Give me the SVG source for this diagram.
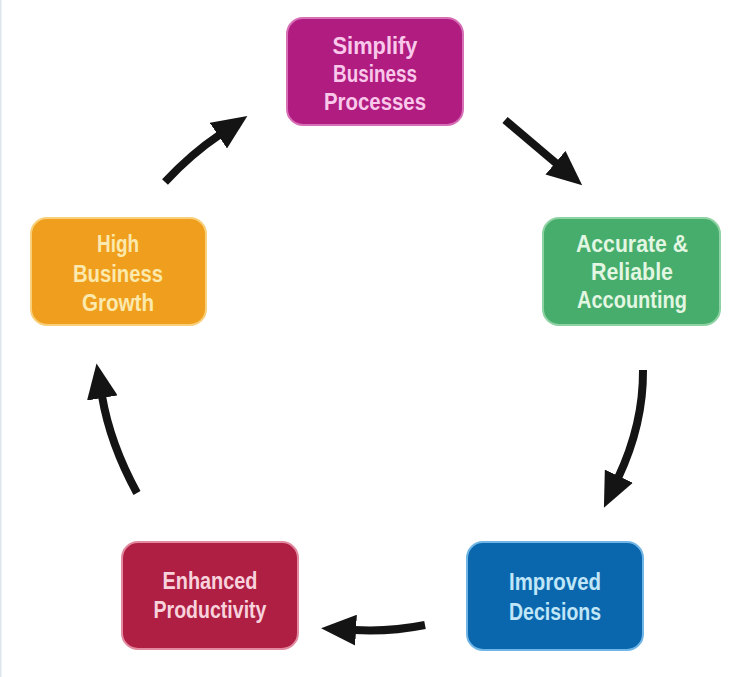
<svg xmlns="http://www.w3.org/2000/svg" width="736" height="677" viewBox="0 0 736 677">
  <defs>
    <marker id="head" viewBox="0 0 35 31" refX="2" refY="15.5" markerWidth="35" markerHeight="31" markerUnits="userSpaceOnUse" orient="auto">
      <path d="M0,0 L35,15.5 L0,31 Z" fill="#141414"/>
    </marker>
  </defs>
  <style>
    .box { stroke-width: 2; }
    .lbl { font-family: "Liberation Sans", Arial, sans-serif; font-weight: bold; font-size: 23px; text-anchor: middle; }
    .arrow { fill: none; stroke: #141414; stroke-width: 8; stroke-linecap: butt; marker-end: url(#head); }
  </style>
  <rect x="0" y="0" width="736" height="677" fill="#ffffff"/>
  <line x1="0.8" y1="0" x2="0.8" y2="677" stroke="#dfe7ee" stroke-width="1.6"/>

  <g id="connectors">
    <path class="arrow" d="M165,182 Q191,154 220,134.5"/>
    <path class="arrow" d="M505,120 L557,164"/>
    <path class="arrow" d="M643,370 Q643.5,424 618,478"/>
    <path class="arrow" d="M425,625 Q390,632 354,630"/>
    <path class="arrow" d="M137,493 Q110,443.5 102,396"/>
  </g>

  <g id="simplify">
    <rect class="box" x="287" y="18" width="176" height="107" rx="16" fill="#b01c80" stroke="#d770b6"/>
    <text class="lbl" fill="#f9c8ea" x="375" y="54" textLength="85" lengthAdjust="spacingAndGlyphs">Simplify</text>
    <text class="lbl" fill="#f9c8ea" x="375" y="82" textLength="84" lengthAdjust="spacingAndGlyphs">Business</text>
    <text class="lbl" fill="#f9c8ea" x="375" y="110" textLength="102" lengthAdjust="spacingAndGlyphs">Processes</text>
  </g>

  <g id="accurate">
    <rect class="box" x="543" y="218" width="177" height="107" rx="16" fill="#46ad6c" stroke="#8fd3a4"/>
    <text class="lbl" fill="#e2f6e2" x="632" y="252" textLength="112" lengthAdjust="spacingAndGlyphs">Accurate &amp;</text>
    <text class="lbl" fill="#e2f6e2" x="632" y="280" textLength="82" lengthAdjust="spacingAndGlyphs">Reliable</text>
    <text class="lbl" fill="#e2f6e2" x="632" y="308" textLength="110" lengthAdjust="spacingAndGlyphs">Accounting</text>
  </g>

  <g id="improved">
    <rect class="box" x="467" y="542" width="176" height="108" rx="16" fill="#0a67ae" stroke="#6fb6e6"/>
    <text class="lbl" fill="#c0e6f8" x="555" y="590" textLength="92" lengthAdjust="spacingAndGlyphs">Improved</text>
    <text class="lbl" fill="#c0e6f8" x="555" y="620" textLength="92" lengthAdjust="spacingAndGlyphs">Decisions</text>
  </g>

  <g id="enhanced">
    <rect class="box" x="122" y="542" width="176" height="107" rx="16" fill="#ae1f43" stroke="#e28aa0"/>
    <text class="lbl" fill="#f8d2dc" x="210" y="589" textLength="95" lengthAdjust="spacingAndGlyphs">Enhanced</text>
    <text class="lbl" fill="#f8d2dc" x="210" y="618" textLength="113" lengthAdjust="spacingAndGlyphs">Productivity</text>
  </g>

  <g id="growth">
    <rect class="box" x="31" y="218" width="175" height="107" rx="16" fill="#ef9f1d" stroke="#f8cf7a"/>
    <text class="lbl" fill="#fce9ae" x="118" y="252" textLength="42" lengthAdjust="spacingAndGlyphs">High</text>
    <text class="lbl" fill="#fce9ae" x="118" y="282" textLength="90" lengthAdjust="spacingAndGlyphs">Business</text>
    <text class="lbl" fill="#fce9ae" x="118" y="311" textLength="72" lengthAdjust="spacingAndGlyphs">Growth</text>
  </g>
</svg>
